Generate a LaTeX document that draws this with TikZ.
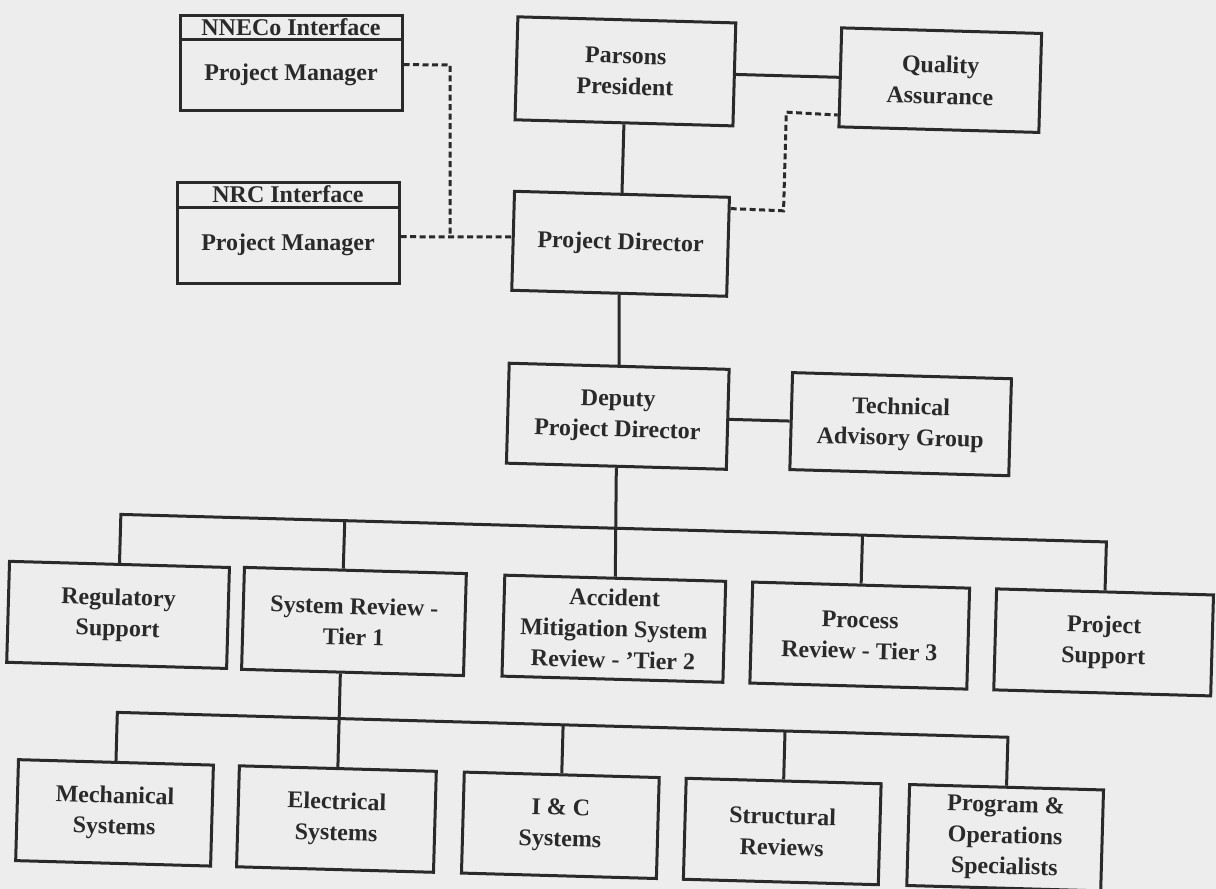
\documentclass[tikz,border=0pt]{standalone}
\usepackage{fontspec}
\setmainfont{Liberation Serif}
\usetikzlibrary{calc}
\definecolor{paper}{HTML}{EDEDED}
\definecolor{ink}{HTML}{2A2A2A}
\tikzset{
  orgbox/.style={draw=ink, line width=3pt, fill=paper, align=center, inner sep=0pt,
    font=\fontsize{24}{31}\selectfont\bfseries, text=ink},
  hdrbox/.style={orgbox, font=\fontsize{24}{24}\selectfont\bfseries},
  link/.style={draw=ink, line width=3pt},
  dotlink/.style={draw=ink, line width=3pt, dash pattern=on 6pt off 3.5pt}
}
\begin{document}
\begin{tikzpicture}[x=1pt,y=-1pt]
\fill[paper] (0,0) rectangle (1216,889);
\useasboundingbox (0,0) rectangle (1216,889);

% top-left interface boxes (level on the page)
\node[hdrbox, minimum width=222pt, minimum height=24pt] (nnecoH) at (291,27) {NNECo Interface};
\node[orgbox, minimum width=222pt, minimum height=71pt] (nneco) at (291,74.5) {Project Manager};
\node[hdrbox, minimum width=222pt, minimum height=25pt] (nrcH) at (288,194.5) {NRC Interface};
\node[orgbox, minimum width=222pt, minimum height=76pt] (nrc) at (288,245) {Project Manager};
\coordinate (d1) at (450,65);
\coordinate (d2) at (450,237);

\begin{scope}[rotate around={-1.6:(608,444)}, transform shape]
% top chain
\node[orgbox, minimum width=218pt, minimum height=103pt] (pres) at (615,71) {Parsons\\President};
\node[orgbox, minimum width=200pt, minimum height=99pt] (qa) at (930,71) {Quality\\Assurance};
\node[orgbox, minimum width=215pt, minimum height=99pt] (pd) at (615,243.5) {Project Director};
\node[orgbox, minimum width=220pt, minimum height=100pt] (dep) at (617,416) {Deputy\\Project Director};
\node[orgbox, minimum width=219pt, minimum height=97pt] (tag) at (900,416) {Technical\\Advisory Group};

% second level
\node[orgbox, minimum width=220pt, minimum height=101pt] (reg) at (123,628.5) {Regulatory\\Support};
\node[orgbox, minimum width=222pt, minimum height=102pt] (sys) at (359,628.5) {System Review -\\Tier 1};
\node[orgbox, minimum width=221pt, minimum height=101pt] (acc) at (619,628.5) {Accident\\Mitigation System\\Review - 'Tier 2};
\node[orgbox, minimum width=217pt, minimum height=101pt] (proc) at (865,628.5) {Process\\Review - Tier 3};
\node[orgbox, minimum width=217pt, minimum height=101pt] (ps) at (1109,628.5) {Project\\Support};

% third level
\node[orgbox, minimum width=195pt, minimum height=101pt] (mech) at (125,826.5) {Mechanical\\Systems};
\node[orgbox, minimum width=197pt, minimum height=101pt] (elec) at (347,826.5) {Electrical\\Systems};
\node[orgbox, minimum width=195pt, minimum height=101pt] (ic) at (571,826.5) {I \& C\\Systems};
\node[orgbox, minimum width=195pt, minimum height=101pt] (str) at (793,826.5) {Structural\\Reviews};
\node[orgbox, minimum width=194pt, minimum height=101pt] (prog) at (1016,826.5) {Program \&\\Operations\\Specialists};

% junction coordinates
\coordinate (q1) at (777,206);
\coordinate (q2) at (777,107.3);
\coordinate (b1reg) at (123,528);
\coordinate (b1sys) at (347,528);
\coordinate (b1proc) at (865,528);
\coordinate (b1ps) at (1109,528);
\coordinate (b2mech) at (125,726);
\coordinate (b2ic) at (571,726);
\coordinate (b2str) at (793,726);
\coordinate (b2prog) at (1016,726);

% solid links
\draw[link] (pres.east) -- (qa.west);
\draw[link] (pres.south) -- (pd.north);
\draw[link] (pd.south) -- (dep.north);
\draw[link] (dep.east) -- (tag.west);
\draw[link] (dep.south) -- (acc.north);
\draw[link] (reg.north) -- (b1reg) -- (b1ps) -- (ps.north);
\draw[link] ($(sys.north west)!0.446!(sys.north east)$) -- (b1sys);
\draw[link] (proc.north) -- (b1proc);
\draw[link] ($(sys.south west)!0.446!(sys.south east)$) -- (elec.north);
\draw[link] (mech.north) -- (b2mech) -- (b2prog) -- (prog.north);
\draw[link] (ic.north) -- (b2ic);
\draw[link] (str.north) -- (b2str);

% dashed link to quality assurance
\draw[dotlink] ($(pd.north east)!0.125!(pd.south east)$) -- (q1) -- (q2) -- ($(qa.north west)!0.87!(qa.south west)$);
\end{scope}

% dashed links of the interface managers
\draw[dotlink] ($(nneco.north east)!0.366!(nneco.south east)$) -- (d1) -- (d2);
\draw[dotlink] ($(nrc.north east)!0.395!(nrc.south east)$) -- ($(pd.north west)!0.463!(pd.south west)$);
\end{tikzpicture}
\end{document}
